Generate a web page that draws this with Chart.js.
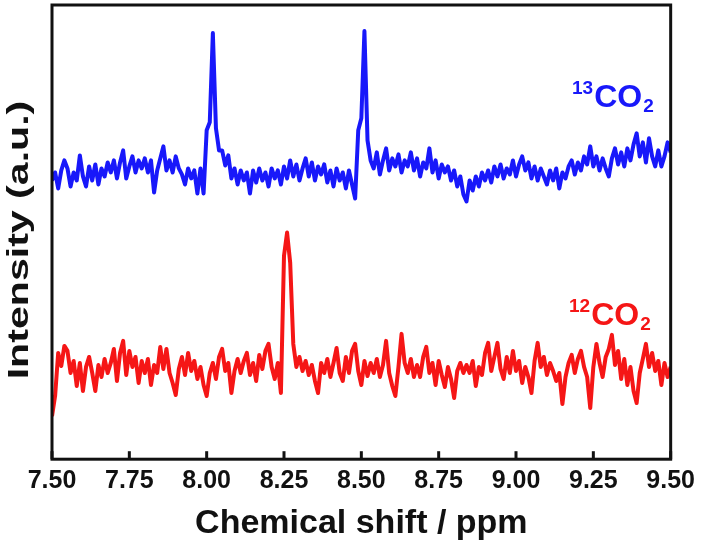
<!DOCTYPE html>
<html>
<head>
<meta charset="utf-8">
<script src="https://cdn.jsdelivr.net/npm/chart.js@4/dist/chart.umd.min.js"></script>
<style>
  html, body { margin: 0; padding: 0; background: #fff; }
  #wrap { width: 702px; height: 547px; }
</style>
</head>
<body>
<div id="wrap"><canvas id="chart" width="702" height="547"></canvas></div>
<script>
// sampling grid: 7.50 .. 9.50 ppm, every 0.01 ppm
const startShift = 7.5;
const stepShift = 0.01;
const tickLabels = ["7.50","7.75","8.00","8.25","8.50","8.75","9.00","9.25","9.50"];

// 13CO2 spectrum (a.u.)
const co2_13 = [
  280,288,272,290,300,292,274,288,280,305,
  284,274,294,280,296,276,292,284,298,288,
  300,282,298,310,282,294,304,288,300,292,
  302,288,300,268,290,302,314,290,300,288,
  304,292,286,276,292,282,290,267,292,267,
  330,338,427,332,310,310,295,305,282,292,
  276,290,280,288,267,290,278,292,280,288,
  274,292,282,290,276,294,282,300,284,296,
  280,292,302,284,298,280,294,286,296,278,
  290,274,292,280,288,272,290,276,262,330,
  342,429,320,300,292,308,286,300,312,290,
  302,294,306,288,300,294,308,290,302,284,
  298,292,312,288,300,282,296,288,294,280,
  290,274,284,266,259,280,270,284,274,288,
  280,290,278,294,284,296,282,292,286,300,
  284,296,304,290,298,282,294,280,292,284,
  276,290,280,292,272,288,282,294,300,286,
  298,290,304,296,314,294,304,290,302,292,
  284,302,312,296,308,294,312,300,316,327,
  304,318,298,322,304,294,310,294,304,318,
  308
];

// 12CO2 spectrum (a.u.)
const co2_12 = [
  45,65,108,95,115,110,88,100,75,98,
  70,94,104,88,70,96,84,102,88,98,
  112,80,108,120,86,110,94,104,78,100,
  88,102,76,96,88,114,92,112,88,78,
  66,92,104,86,108,90,100,82,94,76,
  65,88,98,82,104,112,90,98,68,90,
  102,88,100,108,86,98,80,106,92,110,
  117,94,82,98,68,205,228,198,117,94,
  104,90,100,86,96,80,68,98,88,102,
  84,98,113,88,80,104,88,110,117,90,
  76,100,85,98,88,102,84,96,120,88,
  75,65,94,127,98,88,102,84,96,84,
  104,114,88,98,76,100,86,74,94,82,
  63,90,98,88,96,88,100,75,94,86,
  108,118,90,104,118,92,82,104,88,110,
  90,100,78,94,84,68,100,118,94,104,
  86,98,90,80,88,57,84,98,106,88,
  102,110,94,84,53,94,117,98,84,104,
  112,126,96,110,82,102,76,94,70,58,
  88,102,117,94,108,90,100,76,98,84,
  94
];

const blueColor = "rgb(24,24,250)";
const redColor = "rgb(245,22,22)";

function toPoints(values) {
  return values.map((v, i) => ({ x: +(startShift + i * stepShift).toFixed(2), y: v }));
}

const framePlugin = {
  id: "frame",
  afterDraw(chart) {
    const { ctx, chartArea } = chart;
    const xs = chart.scales.x;
    ctx.save();
    ctx.strokeStyle = "#111";
    ctx.lineWidth = 3;
    ctx.strokeRect(chartArea.left, chartArea.top, chartArea.right - chartArea.left, chartArea.bottom - chartArea.top);
    // inward ticks on the bottom axis
    tickLabels.forEach(t => {
      const px = xs.getPixelForValue(parseFloat(t));
      ctx.beginPath();
      ctx.moveTo(px, chartArea.bottom);
      ctx.lineTo(px, chartArea.bottom - 8);
      ctx.stroke();
    });

    // y axis title, stretched like the original
    ctx.fillStyle = "#111";
    ctx.font = "bold 30px Arial, 'Liberation Sans', sans-serif";
    ctx.textAlign = "center";
    ctx.textBaseline = "middle";
    ctx.translate(20, 240);
    ctx.rotate(-Math.PI / 2);
    ctx.scale(1.37, 1);
    ctx.fillText("Intensity (a.u.)", 0, 0);
    ctx.restore();

    drawFormula(ctx, "13", "2", 572, 107, blueColor);
    drawFormula(ctx, "12", "2", 569, 325, redColor);
  }
};

function drawFormula(ctx, mass, sub, x, baseline, color) {
  ctx.save();
  ctx.fillStyle = color;
  ctx.textAlign = "left";
  ctx.textBaseline = "alphabetic";
  ctx.font = "bold 19px Arial, 'Liberation Sans', sans-serif";
  ctx.fillText(mass, x, baseline - 13);
  let cx = x + ctx.measureText(mass).width + 1;
  ctx.font = "bold 32px Arial, 'Liberation Sans', sans-serif";
  ctx.fillText("CO", cx, baseline);
  cx += ctx.measureText("CO").width + 1;
  ctx.font = "bold 19px Arial, 'Liberation Sans', sans-serif";
  ctx.fillText(sub, cx, baseline + 5);
  ctx.restore();
}

new Chart(document.getElementById("chart"), {
  type: "line",
  data: {
    datasets: [
      { label: "13CO2", data: toPoints(co2_13), borderColor: blueColor, borderWidth: 4, borderJoinStyle: "round", pointRadius: 0, tension: 0 },
      { label: "12CO2", data: toPoints(co2_12), borderColor: redColor, borderWidth: 4, borderJoinStyle: "round", pointRadius: 0, tension: 0 }
    ]
  },
  options: {
    responsive: false,
    animation: false,
    layout: { padding: { left: 52, right: 30, top: 5, bottom: 3 } },
    plugins: { legend: { display: false }, tooltip: { enabled: false } },
    scales: {
      x: {
        type: "linear",
        min: 7.5,
        max: 9.5,
        grid: { display: false, drawTicks: false },
        border: { display: false },
        ticks: {
          stepSize: 0.25,
          padding: 7,
          color: "#111",
          autoSkip: false,
          maxRotation: 0,
          font: { family: "Arial, 'Liberation Sans', sans-serif", size: 25, weight: "bold" },
          callback: v => v.toFixed(2)
        },
        title: {
          display: true,
          text: "Chemical shift / ppm",
          color: "#111",
          padding: { top: 0, bottom: 0 },
          font: { family: "Arial, 'Liberation Sans', sans-serif", size: 34, weight: "bold" }
        }
      },
      y: {
        display: false,
        min: 2,
        max: 455
      }
    }
  },
  plugins: [framePlugin]
});
</script>
</body>
</html>
